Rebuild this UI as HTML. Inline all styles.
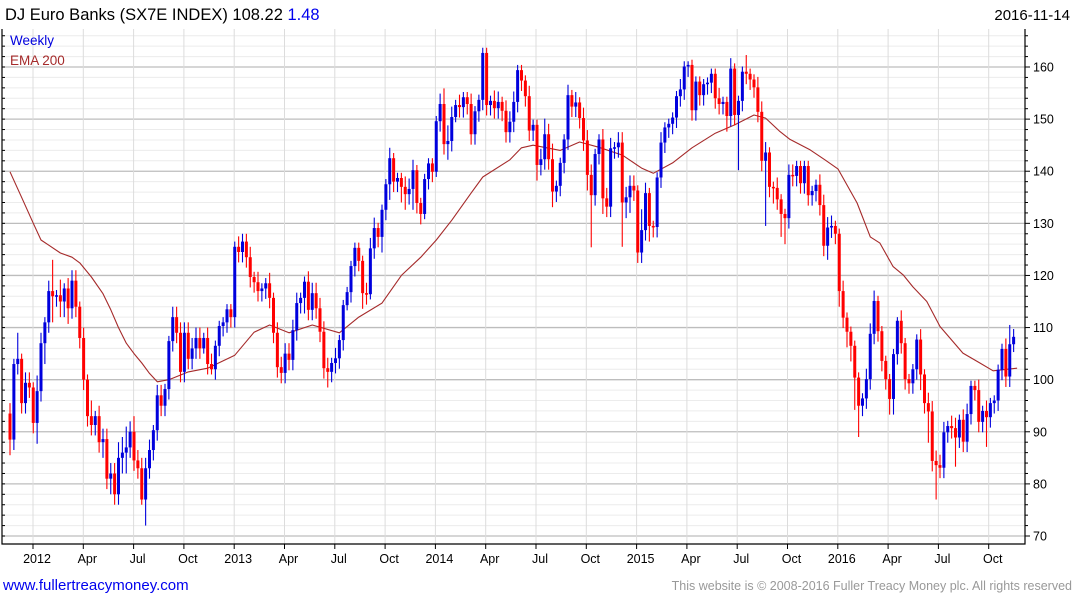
<!DOCTYPE html>
<html><head><meta charset="utf-8"><style>
html,body{margin:0;padding:0;background:#fff;width:1075px;height:600px;overflow:hidden}
svg{display:block;font-family:"Liberation Sans",sans-serif}
</style></head><body>
<svg id="chart" width="1075" height="600">
<text x="5" y="20" font-size="16.5" fill="#000">DJ Euro Banks (SX7E INDEX) 108.22 <tspan fill="#0000ee">1.48</tspan></text>
<text x="1070" y="20" font-size="15" fill="#000" text-anchor="end">2016-11-14</text>
<g id="grid"></g>
<g id="ema"></g>
<g id="candles"></g>
<g id="axes"></g>
<text x="10" y="45" font-size="13.5" fill="#0000dd">Weekly</text>
<text x="10" y="65" font-size="13.5" fill="#a52a2a">EMA 200</text>
<text x="3" y="590" font-size="15" fill="#0000ee">www.fullertreacymoney.com</text>
<text x="1072" y="590" font-size="12.5" fill="#999" text-anchor="end">This website is © 2008-2016 Fuller Treacy Money plc. All rights reserved</text>
</svg>
<script>
const closes=[88.5,103,104,95.5,99.4,98.5,91.7,97.8,107,111,
117,116,116.2,115,117.5,113.7,119,114,108,100,
93,91.3,93,88,88.6,81,82,78,85,86,
87,90,84.5,83,77,83,86.5,90.3,97,95,
98.2,107.4,112,109,101.5,109,104,106,108,106,
108,103,102,106.5,110.3,111,113.5,112,125.5,124.5,
126.5,123.5,119.7,118.7,117,117.5,118.5,115.7,109,102.4,
101.3,105,103.8,109.5,114.7,115.7,118.8,113.4,116.6,113.7,
109.2,102.2,101.5,103.2,104.1,107.6,114.3,116.8,121.8,125.3,
122.8,116.6,116.4,125.2,129.1,127.4,132.6,137.5,142.5,138,
138.7,137,135.6,136.6,140.2,133.9,131.8,138.5,141.5,139.9,
149.6,152.9,145.2,145.8,150.4,152.7,152.3,154.2,152.9,147.1,
151.5,153.7,162.7,152.7,153.5,152.1,153.3,151.6,147.5,149.5,
153.3,159.4,157.4,154.4,147.8,148.9,141.2,142.3,147.1,142.3,
136.1,137.2,141.6,146.1,154.6,152.4,153.2,150.2,145.9,139.3,
135.4,143.3,146.1,134.8,133.2,144.4,144.6,145.5,134,135,
137.2,136.3,124.4,128.7,135.8,129.5,129.3,138.8,145.5,148.4,
149.1,150.3,154.4,155.7,160.1,160.4,151.7,157.2,154.6,156.7,
157,158.7,154,152.9,153.3,150.6,159.7,150.8,153.5,159.1,
158.7,157.6,156.1,151.4,142,143.6,137,136.8,134.6,131.8,
131,139.3,139.1,141,137.7,141,135.4,136.2,137.4,133.5,
125.7,129.2,129.5,128,117,111.9,109.2,106.5,100.4,95,
96.4,100.1,108.8,115.1,109.3,103.6,100.1,96.3,104.9,111.3,
107,100.1,99.3,102,107.7,101,95.5,93.9,84.4,83.6,
83.1,89.9,91.1,90.7,88.9,92.3,88.1,93.4,98.8,98,
91.9,94,92.8,95.5,96,101.9,105.9,100.6,106.8,108.22];
const upperWick=[2,1,5,1,2,2,1,3,2,1, 2,6,1,3,1,2,2,2,1,2, 1,3,1,2,2,2,2,2,3,3, 4,2,3,2,2,2,2,1,2,2,
1,1,2,2,2,2,2,2,2,2, 1,2,2,1,1,1,1,1,1,2, 1.5,1.5,2,1,2,1,1,2,1,2, 2,2,2,2,2,1,1,2,2,2,
2,2,2,1,2,1,1,1,1,1, 1,1,2,2,2,1,1,1,2,1, 1,1,2,2,2,1,1,1,1,1, 1,2,3,3,2,1,2,1,1,2,
1,1,1,1,1,2,2,1,2,2, 2,1,1,1,2,1,1,2,3,2, 3,1,1,1,2,1,2,1,2,2, 2,1,1,2,2,2,1,2,2,2,
2,2,1,4,2,1,1,1,2,1, 1,1,1,2,1,0.7,1,1,1,1, 1,1,1,2,1,1,2,1,1,1, 3.2,1,1,2,2,2,1,1,2,1,
1,2,2,1,1,1,1,1,1,2, 2,2,2,1,1,2,1,1,1,1, 1,2,2,2,1,1,1,1,1,0.7, 2,1,1,1,1,2,1,2,2,2,
2,2,1,2,2,1,2,2,1,1, 2,1,2,1,1,1,1,2,3.7,1.5];
const lowerWick=[3,2,2,2,2,2,2,4,2,4, 2,5,2,3,3,3,2,2,2,2, 2,2,2,2,3,2,3,2,2,3, 4,2,2,2,1,5,2,2,2,2,
2,2,2,2,2,2,2,2,2,2, 1,2,1,2,2,2,2,2,2,2, 2,2,2,2,2,2,2,2,2,2, 2,2,2,2,2,2,3,2,2,2,
2,2,3,2,2,2,2,1,2,2, 2,3,2,1,2,2,3,2,3,2, 2,3,3,2,4,2,2,1,2,2, 1,2,2,3,2,1,2,2,2,2,
2,2,2,2,2,2,2,2,2,2, 2,2,2,2,2,2,3,2,2,2, 3,2,2,2,2,2,2,2,2,3, 10,2,2,3,2,2,2,2,8.5,3,
3,2,2,2,2,3,2,2,2,2, 2,2,2,2,2,2,2,2,2,2, 2,2,2,2,2,3,2,2,10.6,2, 2,2,2,2,2,12.5,2,3,2,4.4,
5,2,2,2,2,2,2,2,2,2, 2,2.7,2,2,3,2,3,3,6.2,6, 2,2,2,2,2,2,2,3,3,2, 2,2,2,2,2,3,2,6,2,6.6,
2,2,2,2,5.6,2,2,2,2,2, 2,2,5.7,2,2,2,2,2,2,1.5];
const emaIdx=[0,3,6,8,10,13,16,18,21,24,26,28,30,32,34,36,38,41,46,51,58,63,67,72,78,85,90,96,101,106,110,114,119,122,129,132,135,142,147,152,158,163,166,171,176,182,187,192,195,198.7,201.3,206.5,210.3,213.7,218.6,222,224.5,227.9,230.5,233,236.6,240,245.9,250.3,253.7,259.9];
const emaVal=[139.9,135,130,126.8,125.8,124.3,123.5,122.4,119.7,116.5,113.4,110,107,105,103.2,101.2,99.6,100,101.5,102.2,104.7,109.1,110.5,109,110.5,109,112,114.7,120,123.5,126.8,130.6,135.8,138.9,142.2,144.5,145,144,145.6,144.6,143.1,140.6,139.6,141.6,144.5,147.3,148.9,150.8,150.2,147.6,146.1,144.1,142.2,140.4,133.9,127.4,126.2,121.7,120.1,117.8,115,110.2,105.1,103.2,101.7,102.2];
const yTicks=[70,80,90,100,110,120,130,140,150,160];
const xLabels=["2012","Apr","Jul","Oct","2013","Apr","Jul","Oct","2014","Apr","Jul","Oct","2015","Apr","Jul","Oct","2016","Apr","Jul","Oct"];

const NS="http://www.w3.org/2000/svg";
const L=2,R=1025,T=29,B=544;
const yS=v=>536-(v-70)*5.211;
const xS=i=>10+3.875*i;
const qx=k=>33+50.3*k;
function mk(tag,attrs,parent){const e=document.createElementNS(NS,tag);for(const k in attrs)e.setAttribute(k,attrs[k]);parent.appendChild(e);return e;}
const grid=document.getElementById('grid'),axes=document.getElementById('axes'),cg=document.getElementById('candles'),eg=document.getElementById('ema');
for(let v=70;v<=166;v+=2){const y=yS(v);if(y<T)continue;
 const l=mk('line',{x1:L,x2:R,y1:y,y2:y,stroke:(v%10===0)?'#bdbdbd':'#ececec','stroke-width':(v%10===0)?1.3:1},grid);
 
 
 const t=mk('line',{x1:R,x2:R+(v%10===0?5:3),y1:y,y2:y,stroke:'#000'},axes);
 
 
 const t2=mk('line',{x1:L,x2:L+3,y1:y,y2:y,stroke:'#000'},axes);
 
 
}
yTicks.forEach(v=>{const t=mk('text',{x:1033,y:yS(v)+4.5,'font-size':12.5,fill:'#000'},axes);t.textContent=v;
 
 });
xLabels.forEach((s,k)=>{const x=qx(k);
 const g=mk('line',{x1:x,x2:x,y1:T,y2:B,stroke:'#dcdcdc'},grid);
 
 
 const tk=mk('line',{x1:x,x2:x,y1:B,y2:B+5,stroke:'#000'},axes);
 
 
 const t=mk('text',{x:x+4,y:563,'font-size':12.5,fill:'#000','text-anchor':'middle'},axes);t.textContent=s;
 
 });
const fr=mk('path',{d:`M${L},${T}V${B}H${R}V${T}`,fill:'none',stroke:'#000','stroke-width':1.2},axes);


let d='';emaIdx.forEach((ix,k)=>{d+=(k?'L':'M')+xS(ix).toFixed(1)+','+yS(emaVal[k]).toFixed(1);});
const ep=mk('path',{d:d,fill:'none',stroke:'#a52a2a','stroke-width':1.1,'stroke-linejoin':'round'},eg);


closes.forEach((c,i)=>{const o=i?closes[i-1]:c+5;const up=c>=o;const col=up?'#0000dd':'#ff0000';
 const hi=Math.max(o,c)+upperWick[i],lo=Math.min(o,c)-lowerWick[i];const x=xS(i);
 const w=mk('line',{x1:x,x2:x,y1:yS(hi),y2:yS(lo),stroke:col,'stroke-width':1.1},cg);
 
 
 const yt=yS(Math.max(o,c)),yb=yS(Math.min(o,c));
 const b=mk('rect',{x:x-1.5,y:yt,width:3,height:Math.max(1.5,yb-yt),fill:col},cg);
 
 
});
</script>
</body></html>
